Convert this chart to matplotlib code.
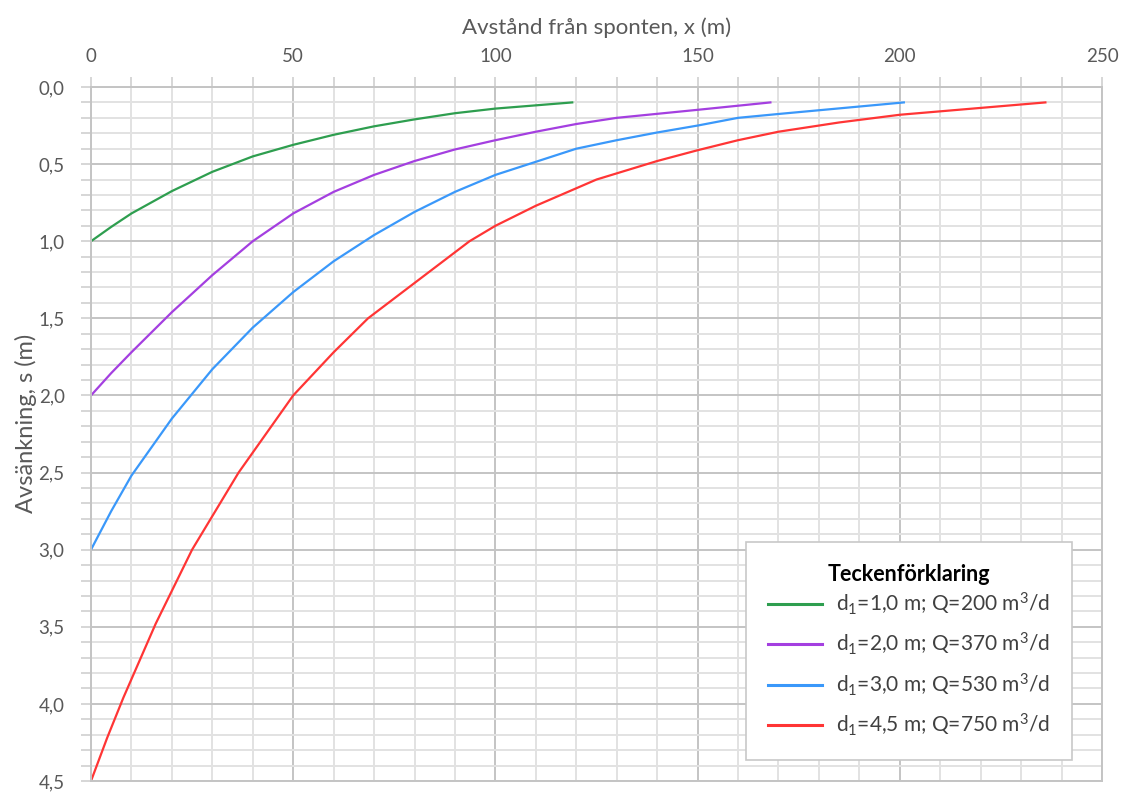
# -*- coding = utf-8 -*-

import numpy as np
import matplotlib
matplotlib.use('Agg')
import matplotlib.pyplot as plt
from matplotlib.ticker import MultipleLocator, FuncFormatter

plt.rcParams['font.family'] = ['Lato', 'DejaVu Sans']
plt.rcParams['mathtext.default'] = 'regular'

# avläsning av kurvorna: avstånd x (m) och avsänkning s (m)
x_green = [0, 5, 10, 20, 30, 40, 50, 60, 70, 80, 90, 100, 119]
s_green = [1.0, 0.907, 0.82, 0.675, 0.55, 0.45, 0.375, 0.31, 0.255, 0.21, 0.17, 0.14, 0.1]

x_purple = [0, 5, 10, 20, 30, 40, 50, 60, 70, 80, 90, 100, 110, 120, 130, 150, 168]
s_purple = [2.0, 1.855, 1.72, 1.46, 1.22, 1.0, 0.82, 0.68, 0.57, 0.48, 0.405, 0.345, 0.29, 0.24, 0.2, 0.148, 0.1]

x_blue = [0, 5, 10, 20, 30, 40, 50, 60, 70, 80, 90, 100, 110, 120, 130, 140, 150, 160, 170, 201]
s_blue = [3.0, 2.75, 2.52, 2.15, 1.83, 1.56, 1.33, 1.13, 0.96, 0.81, 0.68, 0.57, 0.485, 0.40, 0.345, 0.295, 0.25, 0.20, 0.175, 0.1]

x_red = [0, 4, 8, 16, 25, 36.5, 50, 60, 68.5, 93.6, 100, 110, 125, 140, 150, 160, 170, 185, 200, 236]
s_red = [4.5, 4.22, 3.96, 3.48, 3.0, 2.5, 2.0, 1.72, 1.5, 1.0, 0.9, 0.77, 0.6, 0.48, 0.41, 0.345, 0.29, 0.23, 0.18, 0.1]

labels = ['d$_1$=1,0 m; Q=200 m$^3$/d',
          'd$_1$=2,0 m; Q=370 m$^3$/d',
          'd$_1$=3,0 m; Q=530 m$^3$/d',
          'd$_1$=4,5 m; Q=750 m$^3$/d']
colors = ['#2e9e4f', '#a43fe0', '#3a98fa', '#ff3535']

fig = plt.figure(figsize=(11.23, 7.92), dpi=100)
ax = fig.add_axes([91/1123, 11/792, 1011/1123, 694/792])

ax.plot(x_green, s_green, color=colors[0], lw=1.6, label=labels[0])
ax.plot(x_purple, s_purple, color=colors[1], lw=1.6, label=labels[1])
ax.plot(x_blue, s_blue, color=colors[2], lw=1.6, label=labels[2])
ax.plot(x_red, s_red, color=colors[3], lw=1.6, label=labels[3])

ax.set_xlim(0, 250)
ax.set_ylim(4.5, 0)
ax.xaxis.tick_top()
ax.xaxis.set_label_position('top')
ax.xaxis.set_major_locator(MultipleLocator(50))
ax.xaxis.set_minor_locator(MultipleLocator(10))
ax.yaxis.set_major_locator(MultipleLocator(0.5))
ax.yaxis.set_minor_locator(MultipleLocator(0.1))
ax.yaxis.set_major_formatter(FuncFormatter(lambda v, p: ('%.1f' % v).replace('.', ',')))

ax.grid(which='major', color='#c4c4c4', lw=1.4)
ax.grid(which='minor', color='#e2e2e2', lw=1.4)
ax.set_axisbelow(True)
for sp in ax.spines.values():
    sp.set_color('#c4c4c4')
    sp.set_linewidth(1.4)

ax.tick_params(which='both', length=7, color='#d0d0d0', width=1.2,
               labelsize=13.5, labelcolor='#595959', pad=9)
ax.tick_params(axis='y', pad=12)

ax.set_xlabel('Avstånd från sponten, x (m)', fontsize=16, color='#595959')
ax.xaxis.set_label_coords(0.5, 1.076)
ax.set_ylabel('Avsänkning, s (m)', fontsize=17, color='#595959')
ax.yaxis.set_label_coords(-0.053, 0.515)

leg = ax.legend(title='Teckenförklaring', loc='lower right',
                bbox_to_anchor=(0.970, 0.030), borderaxespad=0,
                fontsize=15, title_fontsize=15.5, fancybox=False,
                framealpha=1, edgecolor='#c8c8c8', handlelength=2.6,
                handletextpad=0.65, labelspacing=0.67, borderpad=1.05)
leg._legend_box.sep = 4  # titeln närmare första raden
leg.get_title().set_fontweight('bold')
leg.get_frame().set_linewidth(1.2)
for t in leg.get_texts():
    t.set_color('#404040')
for h in leg.get_lines():
    h.set_linewidth(2.2)

fig.savefig('out.png', dpi=100)
